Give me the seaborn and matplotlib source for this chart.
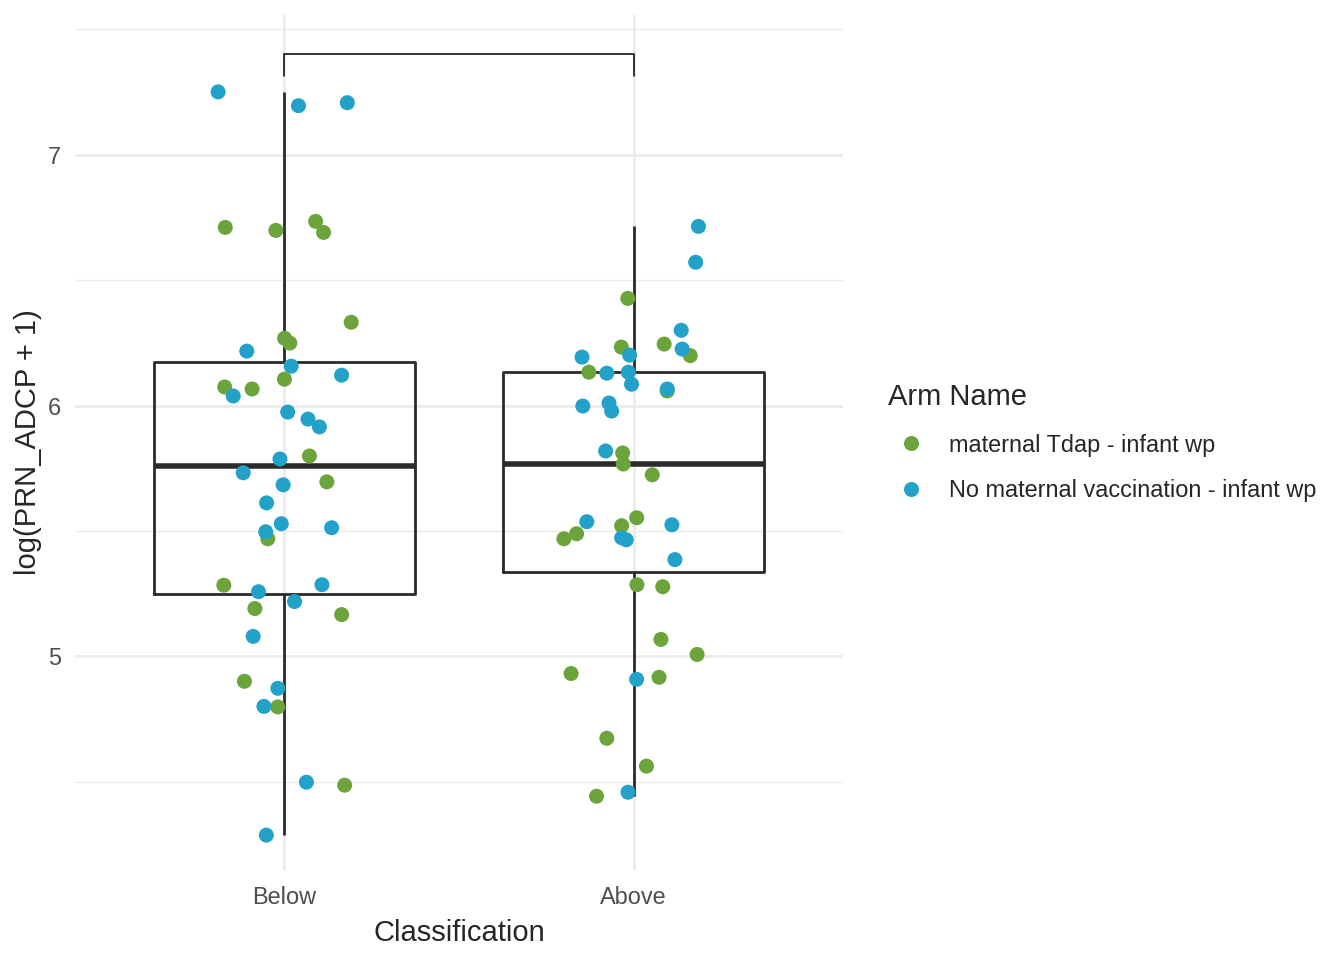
import numpy as np
import matplotlib
matplotlib.use("Agg")
import matplotlib.pyplot as plt
import pandas as pd
import seaborn as sns

classes = ["Below", "Above"]
arms = ["maternal Tdap - infant wp", "No maternal vaccination - infant wp"]
arm_colors = ["#6BA43B", "#22A1C9"]

# log(PRN_ADCP + 1), one list per group
below_tdap = [6.710, 6.690, 6.698, 6.734, 6.332, 6.249, 6.268, 6.074, 6.066, 6.105,
              5.799, 5.696, 5.469, 5.284, 5.191, 5.167, 4.901, 4.799, 4.487]
below_none = [7.250, 7.195, 7.207, 6.217, 6.157, 6.121, 6.038, 5.974, 5.915, 5.946,
              5.787, 5.732, 5.684, 5.612, 5.529, 5.497, 5.513, 5.286, 5.258, 5.219,
              5.080, 4.873, 4.801, 4.499, 4.288]
above_tdap = [6.427, 6.245, 6.233, 6.199, 6.133, 6.058, 5.811, 5.767, 5.724, 5.553,
              5.521, 5.469, 5.489, 5.278, 5.286, 5.068, 5.008, 4.917, 4.932, 4.674,
              4.563, 4.443]
above_none = [6.714, 6.571, 6.225, 6.201, 6.300, 6.193, 6.129, 6.133, 6.066, 6.085,
              5.998, 5.978, 6.010, 5.819, 5.537, 5.473, 5.465, 5.525, 5.386, 4.909,
              4.459]

bracket_y = 7.40      # comparison bracket between the two classes
bracket_drop = 0.086


def build_df():
    """[Stack the group lists into one long DataFrame.]"""
    parts = []
    groups = [("Below", below_tdap, below_none), ("Above", above_tdap, above_none)]
    for cls, tdap, none in groups:
        for arm, vals in zip(arms, [tdap, none]):
            parts.append(pd.DataFrame({"Classification": cls, "Arm Name": arm, "value": vals}))
    return pd.concat(parts, ignore_index=True)


df = build_df()

sns.set_style("white")
plt.rcParams["font.family"] = ["Liberation Sans", "DejaVu Sans"]

fig = plt.figure(figsize=(13.44, 9.6), dpi=100)
ax = fig.add_axes([0.0558, 0.094, 0.5714, 0.890])

sns.boxplot(data=df, x="Classification", y="value", order=classes, width=0.75,
            fill=False, color="#2B2B2B", linewidth=2.0, showfliers=False, showcaps=False,
            whis=1.5, medianprops=dict(linewidth=4.0), ax=ax)

np.random.seed(7)    # jitter only
sns.stripplot(data=df, x="Classification", y="value", hue="Arm Name", order=classes,
              hue_order=arms, palette=arm_colors, jitter=0.2, size=10.8, linewidth=0,
              ax=ax, zorder=4)

ax.plot([0, 0, 1, 1], [bracket_y - bracket_drop, bracket_y, bracket_y, bracket_y - bracket_drop],
        color="black", lw=1.1, zorder=5)

ax.set_xlim(-0.6, 1.6)
ax.set_ylim(4.15, 7.555)
ax.set_yticks([5, 6, 7])
ax.set_yticks([4.5, 5.5, 6.5, 7.5], minor=True)
ax.grid(which="major", color="#EBEBEB", lw=2.0)
ax.grid(which="minor", axis="y", color="#EBEBEB", lw=1.0)
ax.set_axisbelow(True)
for s in ax.spines.values():
    s.set_visible(False)
ax.tick_params(which="both", length=0, labelsize=16.9, labelcolor="#4D4D4D")
ax.tick_params(axis="x", pad=12)
ax.tick_params(axis="y", pad=10)
ax.set_xlabel("Classification", fontsize=21, labelpad=7)
ax.set_ylabel("log(PRN_ADCP + 1)", fontsize=21, labelpad=4.5)

handles, labels = ax.get_legend_handles_labels()
ax.legend(handles, labels, title="Arm Name", loc="center left", bbox_to_anchor=(1.031, 0.5),
          frameon=False, fontsize=16.9, title_fontsize=21, alignment="left",
          handletextpad=0.6, labelspacing=0.95, markerscale=1.0)

fig.savefig("out.png", dpi=100)
